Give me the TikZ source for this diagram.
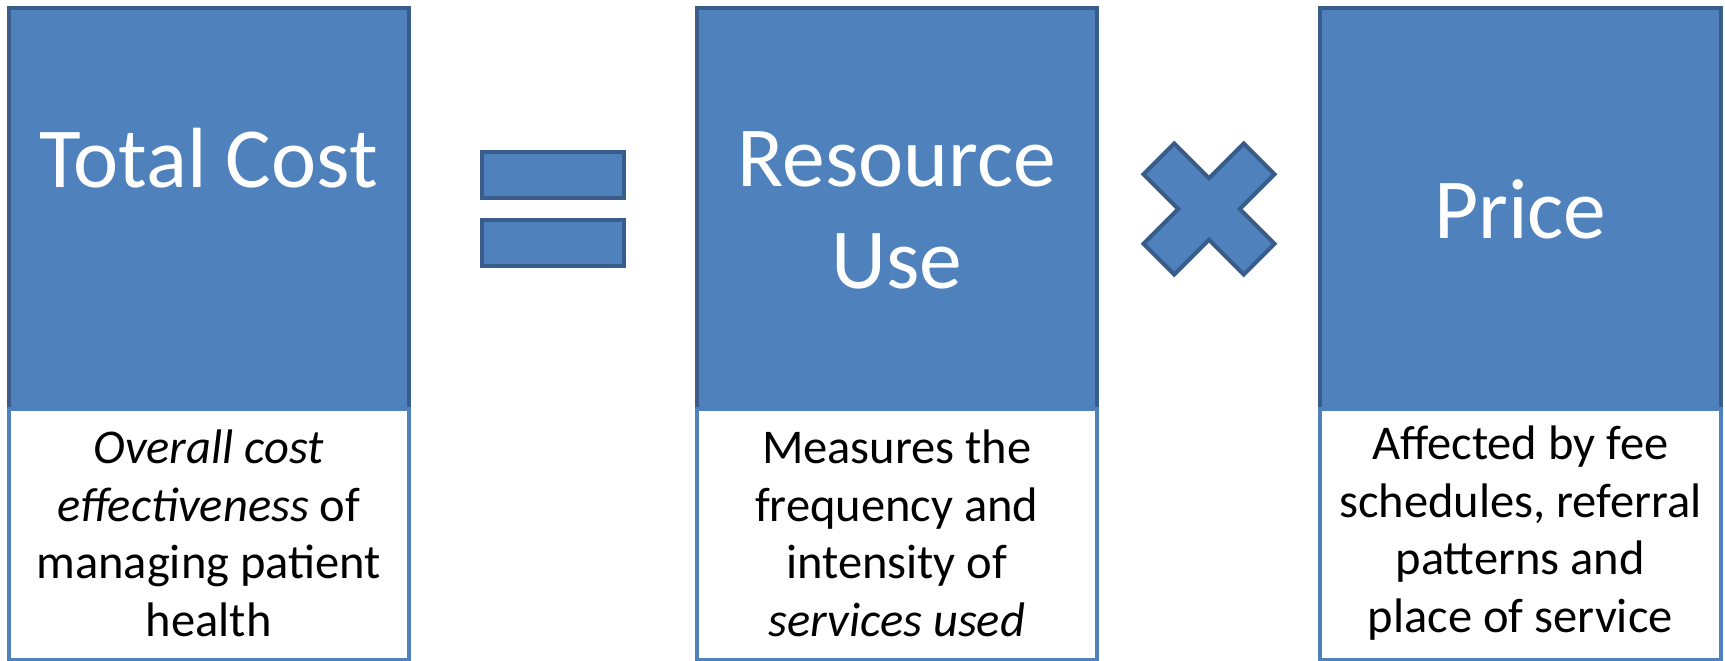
\documentclass[tikz,border=0pt]{standalone}
\usepackage{fontspec}
\setmainfont{Carlito}
\definecolor{bfill}{HTML}{4F81BD}
\definecolor{bdark}{HTML}{385D8A}
\begin{document}
\begin{tikzpicture}[x=1pt,y=-1pt,
  topbox/.style={draw=bdark, fill=bfill, line width=4pt, minimum width=400.5pt, minimum height=400.5pt, inner sep=0pt, outer sep=0pt, anchor=north west},
  botbox/.style={draw=bfill, fill=white, line width=4pt, minimum width=400.5pt, minimum height=250.5pt, inner sep=0pt, outer sep=0pt, anchor=north west},
  titletext/.style={text=white, font=\fontsize{85.5}{101.6}\selectfont, align=center, inner sep=0pt},
  bodytext/.style={text=black, font=\fontsize{48.5}{57.5}\selectfont, align=center, inner sep=0pt},
  opshape/.style={draw=bdark, fill=bfill, line width=4pt, line join=miter}
]
\useasboundingbox (0,0) rectangle (1725,661);
% boxes
\node[topbox] (tc) at (8.5,8.5) {};
\node[botbox] (tcb) at (8.5,409) {};
\node[topbox] (ru) at (696.5,8.5) {};
\node[botbox] (rub) at (696.5,409) {};
\node[topbox] (pr) at (1320,8.5) {};
\node[botbox] (prb) at (1320,409) {};
% titles
\node[titletext, anchor=base] (tct) at (tc.center |- 0,187) {Total Cost};
\node[titletext, anchor=center] (rut) at (ru.center |- 0,210.5) {Resource\\Use};
\node[titletext, anchor=base] (prt) at (pr.center |- 0,238) {Price};
% body texts
\node[bodytext] (tcd) at ([yshift=1pt]tcb.center) {\textit{Overall cost}\\\textit{effectiveness} of\\managing patient\\health};
\node[bodytext] (rud) at ([yshift=1pt]rub.center) {Measures the\\frequency and\\intensity of\\\textit{services used}};
\node[bodytext] (prd) at ([yshift=1pt]prb.center) {Affected by fee\\schedules, referral\\patterns and\\place of service};
% equals sign
\draw[opshape] (481.5,152) rectangle (624,198);
\draw[opshape] (481.5,219.7) rectangle (624,265.7);
% times sign
\begin{scope}[shift={(1209,209)}]
\draw[opshape] (0,-30.8) -- (34.7,-65.5) -- (65.5,-34.7) -- (30.8,0) -- (65.5,34.7) -- (34.7,65.5) -- (0,30.8) -- (-34.7,65.5) -- (-65.5,34.7) -- (-30.8,0) -- (-65.5,-34.7) -- (-34.7,-65.5) -- cycle;
\end{scope}
\end{tikzpicture}
\end{document}
